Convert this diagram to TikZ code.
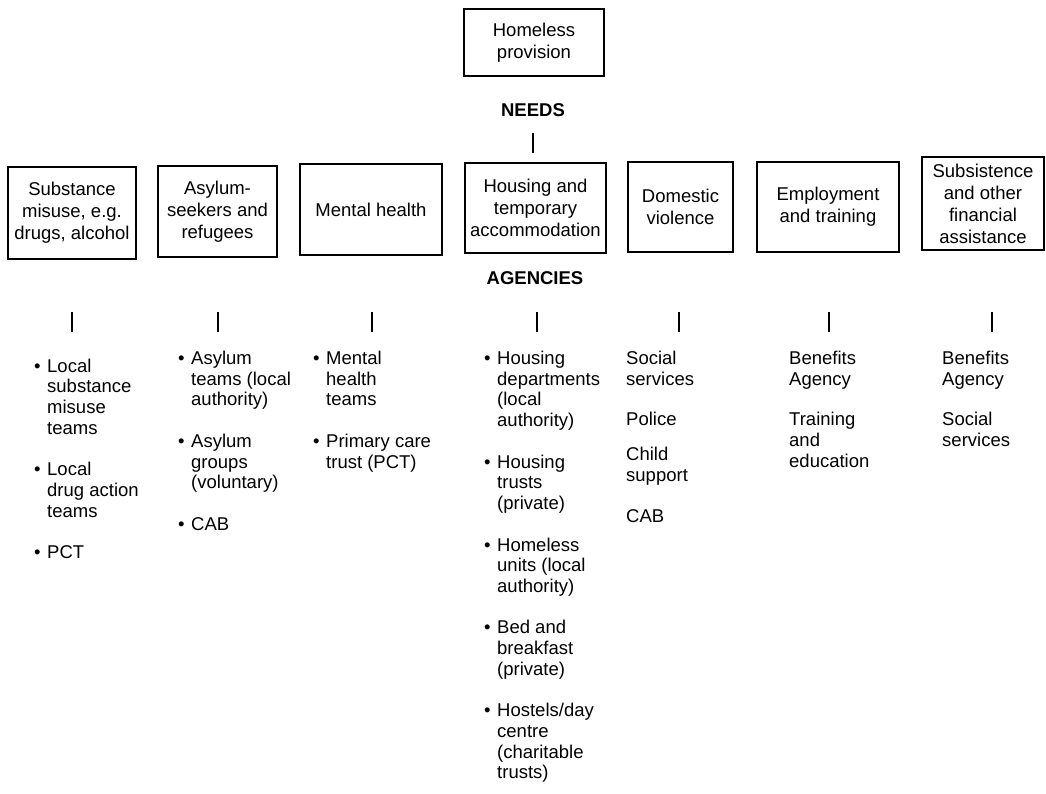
\documentclass[tikz,border=0pt]{standalone}
\usepackage{fontspec}
\setmainfont{Liberation Sans}
\newcommand\bul{\makebox[13pt][l]{\textbullet}}
\begin{document}
\begin{tikzpicture}[x=1pt,y=-1pt,
  box/.style={draw, line width=1.2pt, inner sep=0pt, align=center, font=\fontsize{18.5}{22}\selectfont},
  lbl/.style={inner sep=0pt, font=\fontsize{18.5}{22}\selectfont\bfseries},
  tickline/.style={line width=1.4pt},
  lst/.style={anchor=base west, inner sep=0pt, font=\fontsize{18.5}{20.7}\selectfont}
]
\useasboundingbox (0,0) rectangle (1046,794);

% top
\node[box, minimum width=140, minimum height=67] (top) at (534,42.5) {Homeless\\provision};
\node[lbl] (needs) at (533,110) {NEEDS};
\coordinate (na) at (533,133);
\coordinate (nb) at (533,153);
\draw[tickline] (na) -- (nb);

% needs boxes
\node[box, minimum width=128, minimum height=92] (b1) at (72,213) {Substance\\misuse, e.g.\\drugs, alcohol};
\node[box, minimum width=119, minimum height=91] (b2) at (217.5,211.5) {Asylum-\\seekers and\\refugees};
\node[box, minimum width=142, minimum height=91] (b3) at (371,209.5) {Mental health};
\node[box, minimum width=141, minimum height=90] (b4) at (535.5,208) {Housing and\\temporary\\accommodation};
\node[box, minimum width=105, minimum height=90] (b5) at (680.5,207) {Domestic\\violence};
\node[box, minimum width=142, minimum height=90] (b6) at (828,207) {Employment\\and training};
\node[box, minimum width=122, minimum height=93] (b7) at (983,203.5) {Subsistence\\and other\\financial\\assistance};

\node[lbl] (agencies) at (535,278) {AGENCIES};

% ticks
\foreach \i/\x in {1/72,2/218,3/372,4/537,5/679,6/829,7/992}{
  \coordinate (t\i a) at (\x,312);
  \coordinate (t\i b) at (\x,332);
  \draw[tickline] (t\i a) -- (t\i b);
}

% agency lists
\node[lst] (l1) at (34,372) {\begin{tabular}[t]{@{}l@{}l@{}}
\bul & Local\\ & substance\\ & misuse\\ & teams\\[20.8pt]
\bul & Local\\ & drug action\\ & teams\\[20.8pt]
\bul & PCT
\end{tabular}};

\node[lst] (l2) at (178,364.5) {\begin{tabular}[t]{@{}l@{}l@{}}
\bul & Asylum\\ & teams (local\\ & authority)\\[20.8pt]
\bul & Asylum\\ & groups\\ & (voluntary)\\[20.8pt]
\bul & CAB
\end{tabular}};

\node[lst] (l3) at (313,364.5) {\begin{tabular}[t]{@{}l@{}l@{}}
\bul & Mental\\ & health\\ & teams\\[20.8pt]
\bul & Primary care\\ & trust (PCT)
\end{tabular}};

\node[lst] (l4) at (484,364.5) {\begin{tabular}[t]{@{}l@{}l@{}}
\bul & Housing\\ & departments\\ & (local\\ & authority)\\[20.8pt]
\bul & Housing\\ & trusts\\ & (private)\\[20.8pt]
\bul & Homeless\\ & units (local\\ & authority)\\[20.8pt]
\bul & Bed and\\ & breakfast\\ & (private)\\[20.8pt]
\bul & Hostels/day\\ & centre\\ & (charitable\\ & trusts)
\end{tabular}};

\node[lst] (l5) at (626,364.5) {\begin{tabular}[t]{@{}l@{}}
Social\\ services\\[20pt]
Police\\[14pt]
Child\\ support\\[20pt]
CAB
\end{tabular}};

\node[lst] (l6) at (789,364.5) {\begin{tabular}[t]{@{}l@{}}
Benefits\\ Agency\\[20pt]
Training\\ and\\ education
\end{tabular}};

\node[lst] (l7) at (942,364.5) {\begin{tabular}[t]{@{}l@{}}
Benefits\\ Agency\\[20pt]
Social\\ services
\end{tabular}};
\end{tikzpicture}
\end{document}
